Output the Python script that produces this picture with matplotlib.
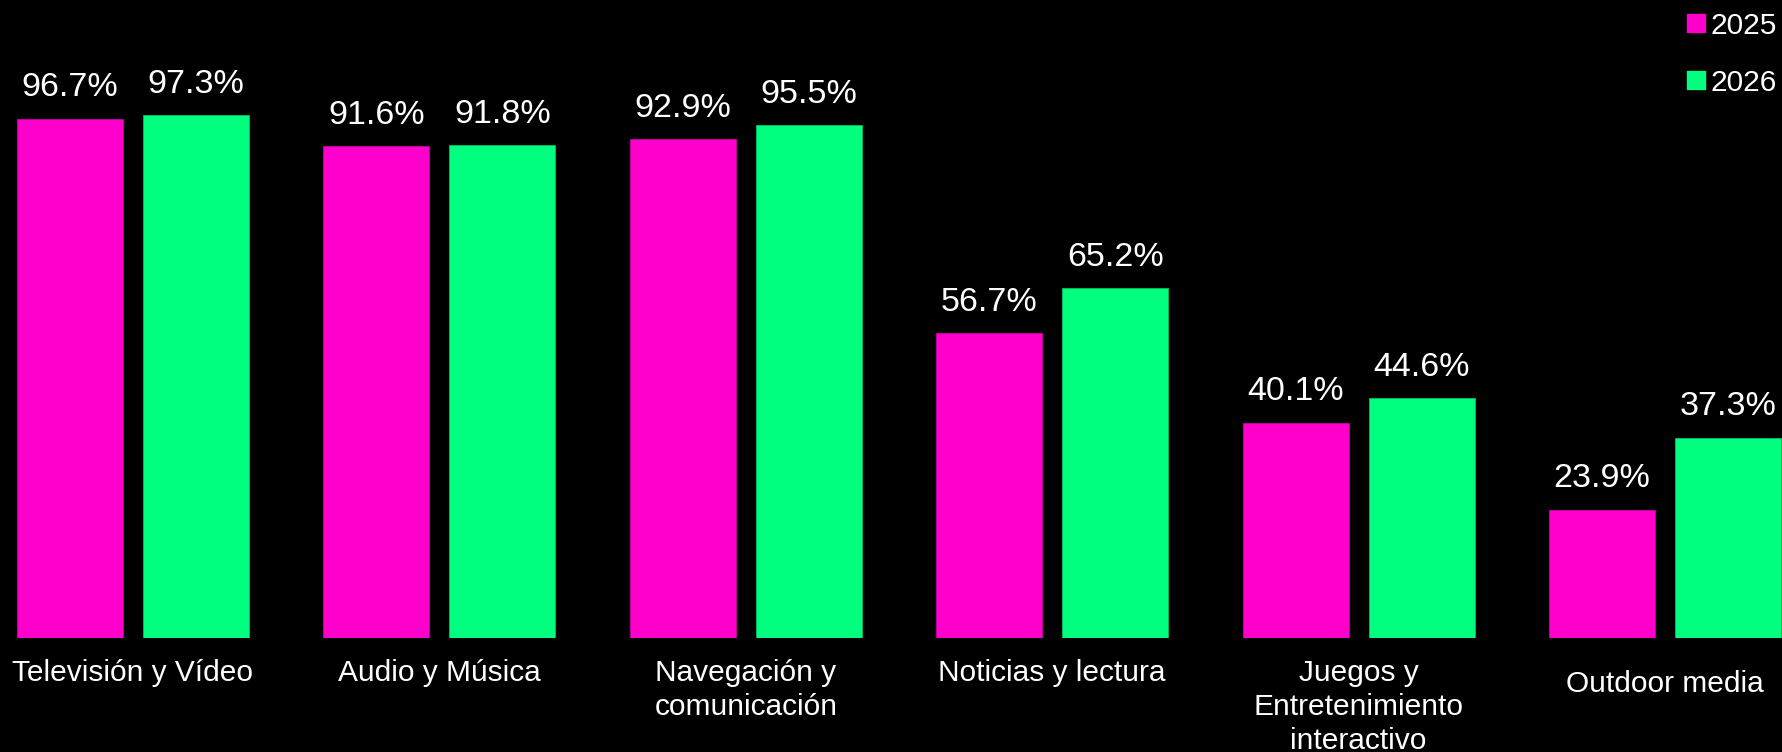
import matplotlib
matplotlib.use("Agg")
import matplotlib.pyplot as plt
import numpy as np
from matplotlib.patches import Rectangle

categories = [
    "Televisión y Vídeo",
    "Audio y Música",
    "Navegación y\ncomunicación",
    "Noticias y lectura",
    "Juegos y\nEntretenimiento\ninteractivo",
    "Outdoor media",
]
series_names = ["2025", "2026"]
values_2025 = [96.7, 91.6, 92.9, 56.7, 40.1, 23.9]
values_2026 = [97.3, 91.8, 95.5, 65.2, 44.6, 37.3]

PINK = "#FF00CC"
GREEN = "#00FF7F"
FONT = "Liberation Sans"
FS_VALUE = 24.5
FS_CAT = 21.5
FS_LEG = 21.5

plt.rcParams["font.family"] = [FONT, "DejaVu Sans"]

fig = plt.figure(figsize=(17.83, 7.52), dpi=100, facecolor="black")
ax = fig.add_axes([0, 0.1516, 1, 0.8484])
ax.set_facecolor("black")

x = np.arange(len(categories))
width = 0.346
offset = 0.2056

bars_a = ax.bar(x - offset, values_2025, width, color=PINK,
                edgecolor="#C8009F", linewidth=0.6)
bars_b = ax.bar(x + offset, values_2026, width, color=GREEN,
                edgecolor="#00C060", linewidth=0.6)

for bars, vals in ((bars_a, values_2025), (bars_b, values_2026)):
    for b, v in zip(bars, vals):
        ax.annotate(f"{v:.1f}%", (b.get_x() + b.get_width() / 2, v),
                    xytext=(0, 16), textcoords="offset points",
                    ha="center", va="baseline", color="white", fontsize=FS_VALUE)

ax.set_xlim(-0.434, 5.385)
ax.set_ylim(0, 118.8)
ax.set_xticks([])
ax.set_yticks([])
for s in ax.spines.values():
    s.set_visible(False)

# category labels below the baseline
trans = matplotlib.transforms.blended_transform_factory(ax.transData, ax.transAxes)
for i, name in enumerate(categories):
    dy = -15 if i < len(categories) - 1 else -23
    ax.annotate(name, (i, 0), xycoords=trans, xytext=(0, dy),
                textcoords="offset points", ha="center", va="top",
                color="white", fontsize=FS_CAT, linespacing=1.28)

# legend in the top-right corner
for k, (name, col) in enumerate(zip(series_names, (PINK, GREEN))):
    yc = 1 - (23 + 57 * k) / 752
    sq_w = 18 / 1783
    sq_h = 18 / 752
    fig.patches.append(Rectangle((1687 / 1783, yc - sq_h / 2), sq_w, sq_h,
                                 transform=fig.transFigure, color=col))
    fig.text(1711 / 1783, yc, name, ha="left", va="center_baseline",
             color="white", fontsize=FS_LEG)

fig.savefig("out.png", dpi=100, facecolor="black")
